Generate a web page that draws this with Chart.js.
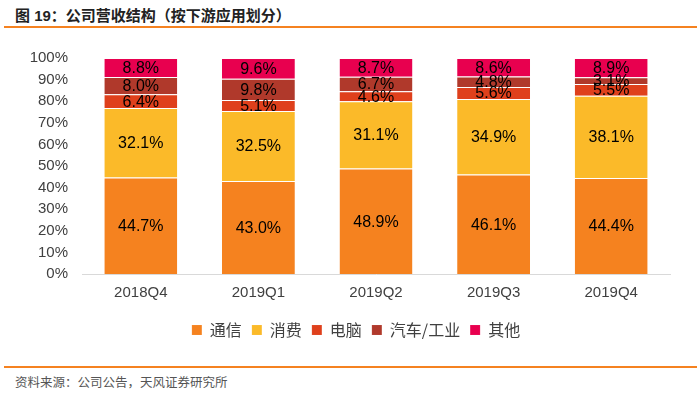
<!DOCTYPE html>
<html>
<head>
<meta charset="utf-8">
<script src="https://cdn.jsdelivr.net/npm/chart.js@4/dist/chart.umd.min.js"></script>
<style>
  body { margin: 0; background: #fff; font-family: "Liberation Sans", "Noto Sans CJK SC", sans-serif; }
  #wrap { position: relative; width: 700px; height: 393px; overflow: hidden; }
  #title { position: absolute; left: 15px; top: 4px; font: bold 15px "Liberation Sans", "Noto Sans CJK SC", sans-serif; color: #222; }
  .rule { position: absolute; left: 4px; width: 693px; height: 2px; background: #F58220; }
  #source { position: absolute; left: 15px; top: 372px; font: 12.5px "Noto Sans CJK SC", sans-serif; color: #555; }
  #box { position: absolute; left: 0; top: 35px; width: 700px; height: 313px; }
</style>
</head>
<body>
<div id="wrap">
  <div id="title">图 19：公司营收结构（按下游应用划分）</div>
  <div class="rule" style="top:26px"></div>
  <div id="box"><canvas id="chart"></canvas></div>
  <div class="rule" style="top:366px"></div>
  <div id="source">资料来源：公司公告，天风证券研究所</div>
</div>
<script>
// quarters and revenue share (%) per downstream application
const quarters = ["2018Q4", "2019Q1", "2019Q2", "2019Q3", "2019Q4"];
const telecom = [44.7, 43.0, 48.9, 46.1, 44.4];
const consumer = [32.1, 32.5, 31.1, 34.9, 38.1];
const computer = [6.4, 5.1, 4.6, 5.6, 5.5];
const autoIndustry = [8.0, 9.8, 6.7, 4.8, 3.1];
const others = [8.8, 9.6, 8.7, 8.6, 8.9];
const yTicks = [0, 10, 20, 30, 40, 50, 60, 70, 80, 90, 100];

// draw value labels in the middle of each segment
const barLabels = {
    id: "barLabels",
    afterDatasetsDraw(chart) {
        const ctx = chart.ctx;
        ctx.save();
        ctx.font = "16px 'Liberation Sans', Arial, sans-serif";
        ctx.fillStyle = "#000";
        ctx.textAlign = "center";
        ctx.textBaseline = "middle";
        chart.data.datasets.forEach((ds, i) => {
            const meta = chart.getDatasetMeta(i);
            meta.data.forEach((bar, j) => {
                const y = (bar.y + bar.base) / 2;
                ctx.fillText(ds.data[j].toFixed(1) + "%", bar.x, y + 1);
            });
        });
        ctx.restore();
    }
};

// legend in the original sits a bit right of the canvas centre
const shiftLegend = {
    id: "shiftLegend",
    afterLayout(chart) {
        const lg = chart.legend;
        if (!lg) return;
        lg.left += 21;
        lg.right += 21;
        (lg.legendHitBoxes || []).forEach(h => { h.left += 21; });
    }
};

new Chart(document.getElementById("chart"), {
    type: "bar",
    data: {
        labels: quarters,
        datasets: [
            { label: "通信", data: telecom, backgroundColor: "#F5821F" },
            { label: "消费", data: consumer, backgroundColor: "#FBBA29" },
            { label: "电脑", data: computer, backgroundColor: "#DF401C" },
            { label: "汽车/工业", data: autoIndustry, backgroundColor: "#B0392B" },
            { label: "其他", data: others, backgroundColor: "#E8004F" }
        ]
    },
    options: {
        responsive: true,
        maintainAspectRatio: false,
        animation: false,
        layout: { padding: { left: 0, right: 30, top: 3, bottom: 0 } },
        datasets: { bar: { categoryPercentage: 0.62, barPercentage: 1, borderWidth: { top: 1 }, borderColor: "rgba(255,255,255,0.35)" } },
        plugins: {
            tooltip: { enabled: false },
            legend: {
                position: "bottom",
                labels: {
                    boxWidth: 10, boxHeight: 10, padding: 10,
                    color: "#404040",
                    font: { size: 16, family: "'Noto Sans CJK SC', sans-serif" }
                }
            }
        },
        scales: {
            x: {
                stacked: true,
                grid: { display: false, drawTicks: false },
                border: { color: "#d9d9d9", width: 1 },
                ticks: { color: "#404040", padding: 10, font: { size: 15, family: "'Liberation Sans', Arial, sans-serif" } }
            },
            y: {
                stacked: true,
                min: 0, max: 100,
                afterBuildTicks: (axis) => { axis.ticks = yTicks.map(v => ({ value: v })); },
                afterFit: (axis) => { axis.width = 82; },
                grid: { display: false, drawTicks: false },
                border: { display: false },
                ticks: {
                    autoSkip: false,
                    color: "#404040", padding: 14,
                    font: { size: 15, family: "'Liberation Sans', Arial, sans-serif" },
                    callback: (v) => v + "%"
                }
            }
        }
    },
    plugins: [barLabels, shiftLegend]
});
</script>
</body>
</html>
